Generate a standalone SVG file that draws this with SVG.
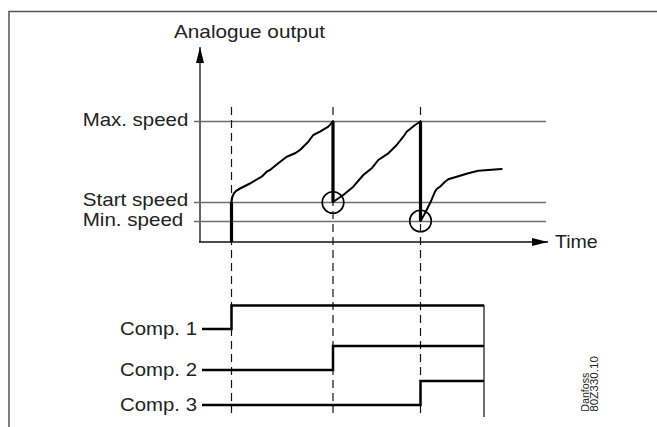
<svg xmlns="http://www.w3.org/2000/svg" width="657" height="427" viewBox="0 0 657 427">
<style>
  text { font-family: "Liberation Sans", Arial, sans-serif; font-size: 19px; fill: #222; }
  .small { font-size: 11px; }
  .frame { fill: none; stroke: #555; stroke-width: 1.5; }
  .ref { fill: none; stroke: #6e6e6e; stroke-width: 1.5; }
  .axis { fill: none; stroke: #111; stroke-width: 1.3; }
  .dash { fill: none; stroke: #111; stroke-width: 1.2; stroke-dasharray: 8 5; }
  .bold { fill: none; stroke: #000; stroke-width: 3.2; }
  .curve { fill: none; stroke: #000; stroke-width: 2; stroke-linejoin: round; stroke-linecap: round; }
  .circ { fill: none; stroke: #000; stroke-width: 1.6; }
  .sig { fill: none; stroke: #000; stroke-width: 2.5; }
  .end { fill: none; stroke: #111; stroke-width: 1.2; }
</style>
<defs>
  <marker id="arr" viewBox="0 0 16 8" refX="16" refY="4" markerWidth="16" markerHeight="8" markerUnits="userSpaceOnUse" orient="auto">
    <path d="M0,0 L16,4 L0,8 Z" fill="#000"/>
  </marker>
</defs>
<rect width="657" height="427" fill="#fff"/>
<path class="frame" d="M9,427 V11.5 H657"/>

<g id="connectors">
  <!-- axes -->
  <path class="axis" d="M200,242 V47" marker-end="url(#arr)"/>
  <path class="axis" d="M199,242 H548" marker-end="url(#arr)"/>
  <!-- reference levels -->
  <path class="ref" d="M194,121.5 H546"/>
  <path class="ref" d="M194,202.5 H546"/>
  <path class="ref" d="M194,221.5 H546"/>
  <!-- dashed time markers -->
  <path class="dash" d="M231.5,107 V413"/>
  <path class="dash" d="M333,107 V413"/>
  <path class="dash" d="M420.5,107 V413"/>
  <!-- output -->
  <path class="bold" d="M231.5,242 V202"/>
  <path class="bold" d="M333,121.5 V202"/>
  <path class="bold" d="M420.5,121.5 V221"/>
  <path class="curve" d="M231.5,202 C232,194 235,191 240,188.5 L250,183.5 L261.7,176.7 L266.7,171.7 L270,170 L278.3,163.3 L286.7,156.7 L295,153.3 L300,150 L308.3,141.7 L313.3,135 L320,131.7 L328.3,126.7 L333,121.5"/>
  <path class="curve" d="M333,202 L343.3,195 L353.3,186.7 L363.3,175 L371.7,168.3 L378.3,160 L388.3,153.3 L396.7,145 L403.3,136.7 L406.7,131.7 L415,125 L420.5,121.5"/>
  <path class="curve" d="M420.5,221 L425,213.3 L430,203.3 L435,191.7 L436.7,189 L440,186.7 L445,181.7 L448.3,179.3 L456.7,176.7 L468.3,173.3 L478.3,170.7 L488.3,170 L501.7,169"/>
  <circle class="circ" cx="333" cy="202.5" r="10.8"/>
  <circle class="circ" cx="420.5" cy="221" r="10.8"/>
  <!-- compressor signals -->
  <path class="sig" d="M202,329 H231.5 V305.5 H484"/>
  <path class="sig" d="M202,370 H333 V346 H484"/>
  <path class="sig" d="M202,405 H420.5 V381 H484"/>
  <path class="end" d="M484,305 V417"/>
</g>

<g id="label-analogue"><text x="174" y="37.5" textLength="151" lengthAdjust="spacingAndGlyphs">Analogue output</text></g>
<g id="label-max"><text x="82.7" y="125.7" textLength="105.6" lengthAdjust="spacingAndGlyphs">Max. speed</text></g>
<g id="label-start"><text x="82.7" y="206" textLength="105.6" lengthAdjust="spacingAndGlyphs">Start speed</text></g>
<g id="label-min"><text x="82.7" y="225.7" textLength="100.6" lengthAdjust="spacingAndGlyphs">Min. speed</text></g>
<g id="label-time"><text x="555" y="247.7" textLength="42.7" lengthAdjust="spacingAndGlyphs">Time</text></g>
<g id="comp1"><text x="120" y="335" textLength="77" lengthAdjust="spacingAndGlyphs">Comp. 1</text></g>
<g id="comp2"><text x="120" y="376" textLength="77" lengthAdjust="spacingAndGlyphs">Comp. 2</text></g>
<g id="comp3"><text x="120" y="410.7" textLength="77" lengthAdjust="spacingAndGlyphs">Comp. 3</text></g>
<g id="ref-code">
  <text class="small" transform="translate(589,411.7) rotate(-90)" textLength="39" lengthAdjust="spacingAndGlyphs">Danfoss</text>
  <text class="small" transform="translate(598,411.7) rotate(-90)" textLength="55.7" lengthAdjust="spacingAndGlyphs">80Z330.10</text>
</g>
</svg>
